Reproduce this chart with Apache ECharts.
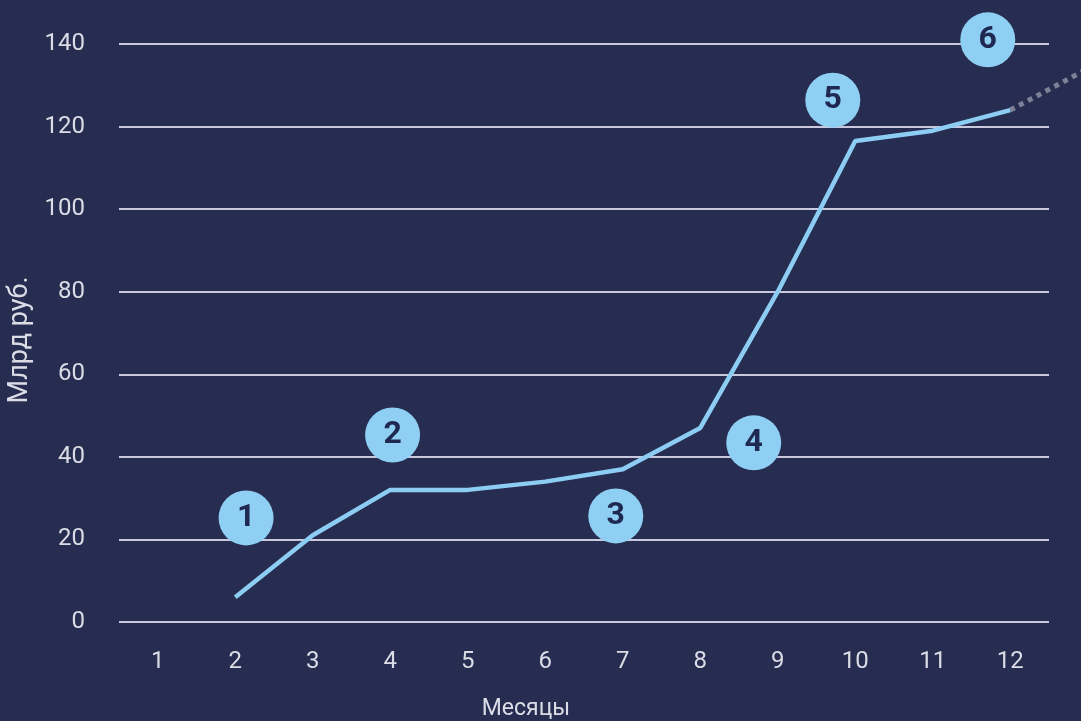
<!DOCTYPE html>
<html>
<head>
<meta charset="utf-8">
<script src="https://cdn.jsdelivr.net/npm/echarts@6/dist/echarts.min.js"></script>
<style>
html,body{margin:0;padding:0;background:#262d51;}
#c{width:1081px;height:721px;}
</style>
</head>
<body>
<div id="c"></div>
<script>
const months = ['1','2','3','4','5','6','7','8','9','10','11','12'];
const values = ['-', 6, 21, 32, 32, 34, 37, 47, 80, 116.5, 119, 124];
const yTicks = { min: 0, max: 140, interval: 20 };
const forecast = [[12, 124], [13, 134]];
const badges = [
  { name: '1', value: [2.14, 25.2] },
  { name: '2', value: [4.03, 45.3] },
  { name: '3', value: [6.91, 25.7] },
  { name: '4', value: [8.69, 43.4] },
  { name: '5', value: [9.71, 126.4] },
  { name: '6', value: [11.71, 141] }
];

const gridLeft = 119, gridRight = 32, plotW = 1081 - gridLeft - gridRight;
const unit = plotW / months.length;
const extMax = 0.5 + (1081 - gridLeft) / unit;

const chart = echarts.init(document.getElementById('c'));
chart.setOption({
  backgroundColor: '#262d51',
  textStyle: { fontFamily: 'Roboto' },
  grid: [
    { left: gridLeft, right: gridRight, top: 44, bottom: 99, containLabel: false, outerBoundsMode: 'none' },
    { left: gridLeft, right: 0, top: 44, bottom: 99, containLabel: false, outerBoundsMode: 'none' }
  ],
  xAxis: [
    {
      type: 'category',
      gridIndex: 0,
      data: months,
      boundaryGap: true,
      axisLine: { show: false },
      axisTick: { show: false },
      axisLabel: { color: '#dcdce6', fontSize: 24, margin: 28, fontFamily: 'Roboto' },
      name: 'Месяцы',
      nameLocation: 'middle',
      nameGap: 76,
      nameTextStyle: { color: '#dcdce6', fontSize: 23, fontFamily: 'Roboto', padding: [0, 116, 0, 0] }
    },
    {
      type: 'value',
      gridIndex: 0,
      min: 0.5,
      max: 12.5,
      show: false
    },
    {
      type: 'value',
      gridIndex: 1,
      min: 0.5,
      max: extMax,
      show: false
    }
  ],
  yAxis: [
    {
      type: 'value',
      gridIndex: 0,
      min: yTicks.min,
      max: yTicks.max,
      interval: yTicks.interval,
      axisLine: { show: false },
      axisTick: { show: false },
      axisLabel: { color: '#dcdce6', fontSize: 24, margin: 34, fontFamily: 'Roboto' },
      splitLine: { lineStyle: { color: '#c9c8dd', width: 2 } },
      name: 'Млрд руб.',
      nameLocation: 'middle',
      nameGap: 80,
      nameRotate: 90,
      nameTextStyle: { color: '#dcdce6', fontSize: 27, fontFamily: 'Roboto', padding: [0, 14, 0, 0] }
    },
    {
      type: 'value',
      gridIndex: 1,
      min: yTicks.min,
      max: yTicks.max,
      show: false
    }
  ],
  series: [
    {
      type: 'line',
      xAxisIndex: 2,
      yAxisIndex: 1,
      data: forecast,
      symbol: 'none',
      lineStyle: { color: '#7d8197', width: 5, type: [5, 5] },
      z: 2
    },
    {
      type: 'line',
      xAxisIndex: 0,
      yAxisIndex: 0,
      data: values,
      symbol: 'none',
      lineStyle: { color: '#8dcdf3', width: 4.5 },
      z: 3
    },
    {
      type: 'scatter',
      xAxisIndex: 1,
      yAxisIndex: 0,
      data: badges,
      clip: false,
      symbol: 'circle',
      symbolSize: 55,
      itemStyle: { color: '#8fcff4', opacity: 1 },
      label: {
        show: true,
        position: 'inside',
        formatter: p => p.name,
        color: '#1f2850',
        fontSize: 32,
        fontWeight: 'bold',
        fontFamily: 'Roboto'
      },
      z: 4
    }
  ]
});
</script>
</body>
</html>
